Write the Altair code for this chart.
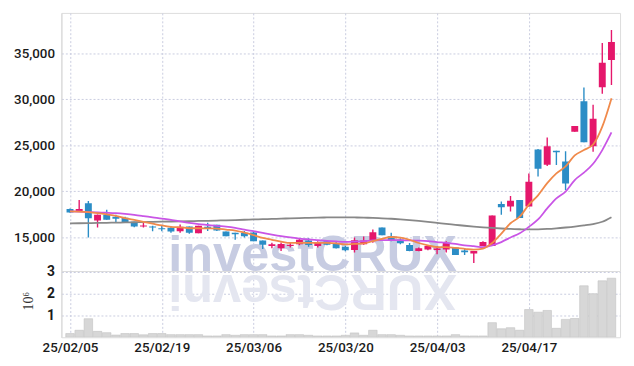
import altair as alt
import pandas as pd

DATES = [
    "2025-02-05", "2025-02-06", "2025-02-07", "2025-02-10", "2025-02-11", "2025-02-12", "2025-02-13", "2025-02-14",
    "2025-02-17", "2025-02-18", "2025-02-19", "2025-02-20", "2025-02-21", "2025-02-24", "2025-02-25", "2025-02-26",
    "2025-02-27", "2025-02-28", "2025-03-04", "2025-03-05", "2025-03-06", "2025-03-07", "2025-03-10", "2025-03-11",
    "2025-03-12", "2025-03-13", "2025-03-14", "2025-03-17", "2025-03-18", "2025-03-19", "2025-03-20", "2025-03-21",
    "2025-03-24", "2025-03-25", "2025-03-26", "2025-03-27", "2025-03-28", "2025-03-31", "2025-04-01", "2025-04-02",
    "2025-04-03", "2025-04-04", "2025-04-07", "2025-04-08", "2025-04-09", "2025-04-10", "2025-04-11", "2025-04-14",
    "2025-04-15", "2025-04-16", "2025-04-17", "2025-04-18", "2025-04-21", "2025-04-22", "2025-04-23", "2025-04-24",
    "2025-04-25", "2025-04-28", "2025-04-29", "2025-04-30",
]
OPEN = [18100, 17780, 18700, 16850, 17460, 17250, 17140, 16700, 16200, 16180,
        16000, 16040, 15680, 16200, 15450, 16150, 16390, 15640, 15500, 15500,
        15530, 14680, 14070, 13820, 14070, 14250, 14680, 14070, 14600, 14320,
        14000, 13640, 14250, 14680, 16080, 15140, 14780, 14180, 13530, 13700,
        13640, 13700, 13900, 13580, 13250, 14070, 14070, 18640, 18350, 19070,
        18350, 24530, 22890, 24420, 23250, 26460, 29780, 24890, 31300, 34240]
HIGH = [18150, 19070, 18960, 17500, 18000, 17460, 17250, 16700, 16600, 16280,
        16300, 16200, 16400, 16200, 16280, 16600, 16390, 15640, 15500, 15700,
        15700, 14680, 14430, 14450, 14500, 14900, 14900, 14600, 14700, 14500,
        14100, 15000, 15100, 15860, 16080, 15500, 14900, 14400, 13900, 14100,
        14070, 14600, 13900, 13850, 13530, 14600, 17390, 18890, 19500, 19070,
        21930, 24600, 25850, 24420, 24350, 27100, 31280, 29400, 36090, 37520]
LOW = [17680, 17780, 15000, 16070, 16930, 16600, 16600, 16100, 16070, 15680,
       15680, 15500, 15500, 15400, 15450, 15700, 15700, 15140, 14750, 15000,
       14600, 13760, 13820, 13530, 13900, 14150, 14000, 13900, 14150, 13800,
       13500, 13360, 14200, 14430, 15250, 14600, 14250, 13500, 13500, 13600,
       13180, 13360, 13100, 13100, 12220, 14070, 14070, 17460, 17820, 17100,
       18350, 21600, 22750, 22850, 20140, 26460, 25320, 24300, 30600, 31550]
CLOSE = [17700, 18100, 17080, 17460, 16930, 17030, 16680, 16200, 16300, 16070,
         15900, 15640, 16150, 15500, 16280, 15950, 15750, 15140, 15350, 15140,
         14600, 14200, 14250, 14300, 14200, 14750, 14180, 14500, 14200, 13820,
         13600, 14710, 14680, 15570, 15250, 14710, 14360, 13530, 13820, 14070,
         13800, 14430, 13100, 13400, 13530, 14500, 17390, 18290, 18990, 17100,
         21030, 22460, 24890, 24250, 20850, 27100, 25320, 27880, 33950, 36200]
VOLUME_M = [0.17, 0.32, 0.85, 0.27, 0.21, 0.10, 0.17, 0.17, 0.11, 0.17,
            0.17, 0.12, 0.12, 0.12, 0.12, 0.06, 0.06, 0.12, 0.09, 0.12,
            0.12, 0.12, 0.06, 0.06, 0.12, 0.12, 0.09, 0.06, 0.06, 0.06,
            0.09, 0.20, 0.09, 0.32, 0.12, 0.12, 0.09, 0.06, 0.06, 0.06,
            0.06, 0.06, 0.12, 0.06, 0.06, 0.06, 0.67, 0.39, 0.44, 0.32,
            1.27, 1.15, 1.23, 0.41, 0.82, 0.86, 2.36, 2.00, 2.59, 2.71]
MA_SHORT = [17820, 17800, 17750, 17650, 17500, 17350, 17100, 16900, 16700, 16500,
            16300, 16150, 16100, 16000, 16000, 15980, 15960, 15850, 15750, 15520,
            15250, 14950, 14750, 14550, 14400, 14400, 14400, 14420, 14400, 14350,
            14250, 14300, 14350, 14600, 14850, 15050, 14980, 14750, 14400, 14150,
            13950, 13950, 13860, 13770, 13680, 13800, 14400, 15420, 16540, 17250,
            18560, 19570, 20890, 21950, 22700, 23910, 24480, 25080, 27020, 30090]
MA_MID = [17820, 17800, 17760, 17720, 17680, 17630, 17550, 17450, 17320, 17180,
          17050, 16900, 16750, 16580, 16450, 16350, 16250, 16180, 16050, 15850,
          15680, 15500, 15320, 15150, 15000, 14880, 14780, 14700, 14620, 14560,
          14520, 14550, 14600, 14680, 14720, 14720, 14700, 14680, 14650, 14600,
          14500, 14420, 14300, 14150, 14050, 13950, 14150, 14500, 15000, 15450,
          16150, 16950, 18150, 19250, 19980, 21230, 22030, 22990, 24480, 26390]
MA_LONG = [16530, 16540, 16550, 16570, 16590, 16610, 16630, 16650, 16670, 16690,
           16710, 16730, 16750, 16770, 16790, 16810, 16830, 16860, 16890, 16920,
           16950, 16980, 17010, 17040, 17070, 17100, 17130, 17150, 17170, 17180,
           17180, 17170, 17150, 17120, 17080, 17030, 16960, 16880, 16790, 16690,
           16580, 16470, 16370, 16270, 16180, 16100, 16030, 15970, 15920, 15890,
           15870, 15880, 15920, 15990, 16080, 16180, 16300, 16450, 16700, 17200]
X_LABEL_IDX = [0, 10, 20, 30, 40, 50]
PRICE_TICKS = [15000, 20000, 25000, 30000, 35000]
VOL_TICKS = [1, 2, 3]

UP, DOWN = "#e5176b", "#2b8dc6"
GRID = "#c9cce0"
FONT = "Roboto"

n = len(DATES)
df = pd.DataFrame({
    "idx": list(range(n)), "date": DATES, "open": OPEN, "high": HIGH,
    "low": LOW, "close": CLOSE, "vol": VOLUME_M,
})
df["dir"] = ["up" if c >= o else "down" for o, c in zip(OPEN, CLOSE)]

ma = pd.concat([
    pd.DataFrame({"idx": list(range(n)), "v": MA_LONG, "s": "long"}),
    pd.DataFrame({"idx": list(range(n)), "v": MA_MID, "s": "mid"}),
    pd.DataFrame({"idx": list(range(n)), "v": MA_SHORT, "s": "short"}),
])

lab = {i: f"{DATES[i][2:4]}/{DATES[i][5:7]}/{DATES[i][8:10]}" for i in X_LABEL_IDX}
label_expr = " : ".join(f"datum.value == {i} ? '{t}'" for i, t in lab.items()) + " : ''"

xscale = alt.Scale(domain=[-0.4, n - 0.6], nice=False, zero=False)
x_top = alt.X("idx:Q", scale=xscale, axis=alt.Axis(
    values=X_LABEL_IDX, labels=False, ticks=False, domain=False, title=None,
    grid=True, gridColor=GRID, gridDash=[2, 2], minExtent=0, maxExtent=0))
x_bot = alt.X("idx:Q", scale=xscale, axis=alt.Axis(
    values=X_LABEL_IDX, labelExpr=label_expr, ticks=False, domain=False, title=None,
    grid=True, gridColor=GRID, gridDash=[2, 2], labelFont=FONT, labelFontSize=13.5,
    labelFontWeight=500, labelColor="#1a1a1a", labelPadding=3, labelFlush=False))

yprice = alt.Scale(domain=[11360, 39360], nice=False, zero=False)
yaxis_price = alt.Axis(values=PRICE_TICKS, format=",d", title=None, ticks=False,
                       labelPadding=7, labelFont=FONT, labelFontSize=13.5, labelFontWeight=500,
                       labelColor="#1a1a1a", domainColor="#d8d8d8", grid=True, gridColor=GRID,
                       gridDash=[2, 2], minExtent=48, maxExtent=48)
color = alt.Color("dir:N", scale=alt.Scale(domain=["up", "down"], range=[UP, DOWN]), legend=None)

base = alt.Chart(df)
wm = alt.Chart(pd.DataFrame({"t": ["investCRUX"]})).mark_text(
    font="Liberation Sans", fontWeight="bold", fontSize=51, color="#c7cce2", align="center",
    baseline="alphabetic", clip=True).encode(text="t:N", x=alt.value(254), y=alt.value(261))
wick = base.mark_rule(strokeWidth=1.4, clip=True).encode(
    x=x_top, y=alt.Y("low:Q", scale=yprice, axis=yaxis_price), y2="high:Q", color=color)
body = base.mark_bar(size=7, clip=True).encode(x="idx:Q", y="open:Q", y2="close:Q", color=color)
lines = alt.Chart(ma).mark_line(strokeWidth=1.8, interpolate="monotone", clip=True).encode(
    x="idx:Q", y="v:Q", detail="s:N",
    color=alt.Color("s:N", scale=alt.Scale(domain=["long", "mid", "short"],
                                           range=["#888888", "#c955e6", "#f08a4b"]), legend=None))
top = alt.layer(wm, wick, body, lines).resolve_scale(color="independent").properties(width=565, height=261)

wm2 = alt.Chart(pd.DataFrame({"t": ["XURCtsevni"]})).mark_text(
    font="Liberation Sans", fontWeight="bold", fontSize=51, color="#e4e6f0", align="center",
    baseline="alphabetic", angle=180, clip=True).encode(text="t:N", x=alt.value(254), y=alt.value(4))
vol = base.mark_bar(size=8.6, color="#d7d7d7", stroke="#c2c2c2", strokeWidth=0.6, clip=True).encode(
    x=x_bot,
    y=alt.Y("vol:Q", scale=alt.Scale(domain=[0, 3.04], nice=False), axis=alt.Axis(
        values=VOL_TICKS, title="10⁶", titleFont="Liberation Serif", titleFontSize=14,
        titleFontWeight="normal", titleColor="#333", titleX=-26, titleY=30,
        ticks=False, labelPadding=7, labelFont=FONT, labelFontSize=14, labelFontWeight="bold",
        labelColor="#1a1a1a", domainColor="#d8d8d8", grid=True, gridColor=GRID, gridDash=[2, 2],
        minExtent=48, maxExtent=48)))
bottom = alt.layer(wm2, vol).properties(width=565, height=67)

chart = alt.vconcat(top, bottom, spacing=0, bounds="flush").properties(
    padding={"left": 5, "top": 2, "right": 5, "bottom": 2}
).configure_view(stroke="#d8d8d8").configure(background="white")

chart.save("out.html", embed_options={"renderer": "svg", "actions": False})
